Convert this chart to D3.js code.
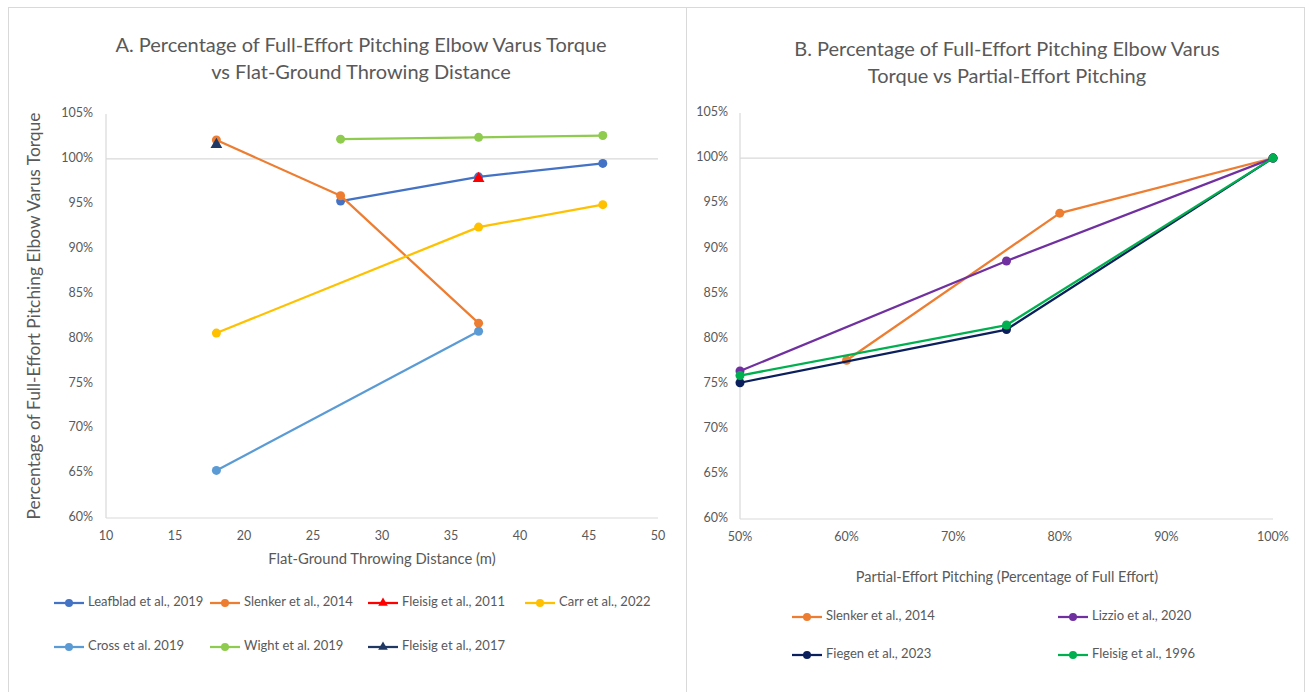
<!DOCTYPE html>
<html>
<head>
<meta charset="utf-8">
<script src="https://cdn.jsdelivr.net/npm/d3@7"></script>
<style>
  body { margin: 0; background: #fff; }
  svg text { font-family: Lato, "Open Sans", sans-serif; fill: #595959; }
</style>
</head>
<body>
<svg id="chart" width="1309" height="692"></svg>
<script>
// ---- Panel A: flat-ground throwing distance (m) vs % of full-effort torque ----
const xTicksA = [10, 15, 20, 25, 30, 35, 40, 45, 50];
const yTicks = [60, 65, 70, 75, 80, 85, 90, 95, 100, 105];

const leafbladX = [27, 37, 46];
const leafbladY = [95.3, 98.0, 99.5];
const slenkerAX = [18, 27, 37];
const slenkerAY = [102.1, 95.9, 81.7];
const fleisig2011X = [37];
const fleisig2011Y = [97.8];
const carrX = [18, 37, 46];
const carrY = [80.6, 92.4, 94.9];
const crossX = [18, 37];
const crossY = [65.3, 80.8];
const wightX = [27, 37, 46];
const wightY = [102.2, 102.4, 102.6];
const fleisig2017X = [18];
const fleisig2017Y = [101.6];

// ---- Panel B: partial-effort pitching (% of full effort) ----
const xTicksB = [50, 60, 70, 80, 90, 100];

const slenkerBX = [60, 80, 100];
const slenkerBY = [77.6, 93.9, 100];
const lizzioX = [50, 75, 100];
const lizzioY = [76.4, 88.6, 100];
const fiegenX = [50, 75, 100];
const fiegenY = [75.1, 81.0, 100];
const fleisig1996X = [50, 75, 100];
const fleisig1996Y = [75.9, 81.5, 100];

const seriesA = [
  { name: "Leafblad et al., 2019", color: "#4472C4", shape: "circle", xs: leafbladX, ys: leafbladY },
  { name: "Slenker et al., 2014", color: "#ED7D31", shape: "circle", xs: slenkerAX, ys: slenkerAY },
  { name: "Fleisig et al., 2011", color: "#FF0000", shape: "triangle", xs: fleisig2011X, ys: fleisig2011Y },
  { name: "Carr et al., 2022", color: "#FFC000", shape: "circle", xs: carrX, ys: carrY },
  { name: "Cross et al. 2019", color: "#5B9BD5", shape: "circle", xs: crossX, ys: crossY },
  { name: "Wight et al. 2019", color: "#8FCB4E", shape: "circle", xs: wightX, ys: wightY },
  { name: "Fleisig et al., 2017", color: "#203864", shape: "triangle", xs: fleisig2017X, ys: fleisig2017Y }
];

const seriesB = [
  { name: "Slenker et al., 2014", color: "#ED7D31", shape: "circle", xs: slenkerBX, ys: slenkerBY },
  { name: "Lizzio et al., 2020", color: "#7030A0", shape: "circle", xs: lizzioX, ys: lizzioY },
  { name: "Fiegen et al., 2023", color: "#0B1F5C", shape: "circle", xs: fiegenX, ys: fiegenY },
  { name: "Fleisig et al., 1996", color: "#00B050", shape: "circle", xs: fleisig1996X, ys: fleisig1996Y }
];

const svg = d3.select("#chart");
const GRID = "#D9D9D9";

// outer panel frames
svg.append("rect").attr("x", 8.5).attr("y", 7.5).attr("width", 678).attr("height", 700)
  .attr("fill", "none").attr("stroke", GRID);
svg.append("rect").attr("x", 686.5).attr("y", 7.5).attr("width", 618).attr("height", 700)
  .attr("fill", "none").attr("stroke", GRID);

function drawPanel(opt) {
  const g = svg.append("g");
  const x = d3.scaleLinear().domain(opt.xDomain).range(opt.xRange);
  const y = d3.scaleLinear().domain([60, 105]).range(opt.yRange);

  // titles
  opt.title.forEach((t, i) => {
    g.append("text")
      .attr("x", opt.titleX)
      .attr("y", opt.titleY + i * 27)
      .attr("text-anchor", "middle")
      .attr("dominant-baseline", "middle")
      .style("font-size", "20px")
      .text(t);
  });

  // axis lines + gridline at 100%
  g.append("line")
    .attr("x1", x.range()[0]).attr("x2", x.range()[0])
    .attr("y1", y(105)).attr("y2", y(60))
    .attr("stroke", GRID).attr("stroke-width", 1.2);
  g.append("line")
    .attr("x1", x.range()[0]).attr("x2", x.range()[1])
    .attr("y1", y(60)).attr("y2", y(60))
    .attr("stroke", GRID).attr("stroke-width", 1.2);
  g.append("line")
    .attr("x1", x.range()[0]).attr("x2", x.range()[1])
    .attr("y1", y(100)).attr("y2", y(100))
    .attr("stroke", GRID).attr("stroke-width", 1.2);

  // tick labels
  g.selectAll(".ytick").data(yTicks).enter().append("text")
    .attr("x", opt.yLabelX)
    .attr("y", d => y(d))
    .attr("text-anchor", "end")
    .attr("dominant-baseline", "middle")
    .style("font-size", "12.5px")
    .text(d => d + "%");

  g.selectAll(".xtick").data(opt.xTicks).enter().append("text")
    .attr("x", d => x(d))
    .attr("y", y(60) + 19)
    .attr("text-anchor", "middle")
    .attr("dominant-baseline", "middle")
    .style("font-size", "12.5px")
    .text(opt.xFormat);

  // axis titles
  g.append("text")
    .attr("x", opt.xTitleX)
    .attr("y", opt.xTitleY)
    .attr("text-anchor", "middle")
    .attr("dominant-baseline", "middle")
    .style("font-size", opt.xTitleSize)
    .text(opt.xTitle);

  if (opt.yTitle) {
    g.append("text")
      .attr("transform", `translate(${opt.yTitleX},${(y(105) + y(60)) / 2}) rotate(-90)`)
      .attr("text-anchor", "middle")
      .attr("dominant-baseline", "middle")
      .style("font-size", "17.4px")
      .text(opt.yTitle);
  }

  const line = d3.line().x(d => x(d[0])).y(d => y(d[1]));
  const tri = d3.symbol().type(d3.symbolTriangle).size(60);

  opt.series.forEach(s => {
    const pts = s.xs.map((v, i) => [v, s.ys[i]]);
    if (pts.length > 1) {
      g.append("path")
        .datum(pts)
        .attr("fill", "none")
        .attr("stroke", s.color)
        .attr("stroke-width", 2.25)
        .attr("stroke-linejoin", "round")
        .attr("d", line);
    }
    if (s.shape === "circle") {
      g.selectAll(null).data(pts).enter().append("circle")
        .attr("cx", d => x(d[0]))
        .attr("cy", d => y(d[1]))
        .attr("r", 4.5)
        .attr("fill", s.color);
    } else {
      g.selectAll(null).data(pts).enter().append("path")
        .attr("transform", d => `translate(${x(d[0])},${y(d[1])})`)
        .attr("d", tri)
        .attr("fill", s.color);
    }
  });

  // legend
  const tri2 = d3.symbol().type(d3.symbolTriangle).size(40);
  opt.series.forEach((s, i) => {
    const lx = opt.legendCols[i % opt.legendCols.length];
    const ly = opt.legendRows[Math.floor(i / opt.legendCols.length)];
    const item = g.append("g").attr("transform", `translate(${lx},${ly})`);
    item.append("line").attr("x1", 0).attr("x2", 30).attr("y1", 0).attr("y2", 0)
      .attr("stroke", s.color).attr("stroke-width", 2.25);
    if (s.shape === "circle") {
      item.append("circle").attr("cx", 15).attr("cy", 0).attr("r", 4).attr("fill", s.color);
    } else {
      item.append("path").attr("transform", "translate(15,0)").attr("d", tri2).attr("fill", s.color);
    }
    item.append("text")
      .attr("x", 34).attr("y", 0)
      .attr("dominant-baseline", "middle")
      .style("font-size", "13px")
      .text(s.name);
  });
}

drawPanel({
  series: seriesA,
  xDomain: [10, 50], xRange: [106, 658], yRange: [518, 114],
  xTicks: xTicksA, xFormat: d => d,
  title: ["A. Percentage of Full-Effort Pitching Elbow Varus Torque", "vs Flat-Ground Throwing Distance"],
  titleX: 361, titleY: 47,
  yLabelX: 93,
  xTitle: "Flat-Ground Throwing Distance (m)", xTitleX: 382, xTitleY: 560, xTitleSize: "14.8px",
  yTitle: "Percentage of Full-Effort Pitching Elbow Varus Torque", yTitleX: 36,
  legendCols: [54, 210, 368, 525], legendRows: [603, 647]
});

drawPanel({
  series: seriesB,
  xDomain: [50, 100], xRange: [740, 1273], yRange: [519, 113],
  xTicks: xTicksB, xFormat: d => d + "%",
  title: ["B. Percentage of Full-Effort Pitching Elbow Varus", "Torque vs Partial-Effort Pitching"],
  titleX: 1007, titleY: 51,
  yLabelX: 728,
  xTitle: "Partial-Effort Pitching (Percentage of Full Effort)", xTitleX: 1007, xTitleY: 578, xTitleSize: "14.5px",
  legendCols: [792, 1058], legendRows: [617, 655]
});
</script>
</body>
</html>
